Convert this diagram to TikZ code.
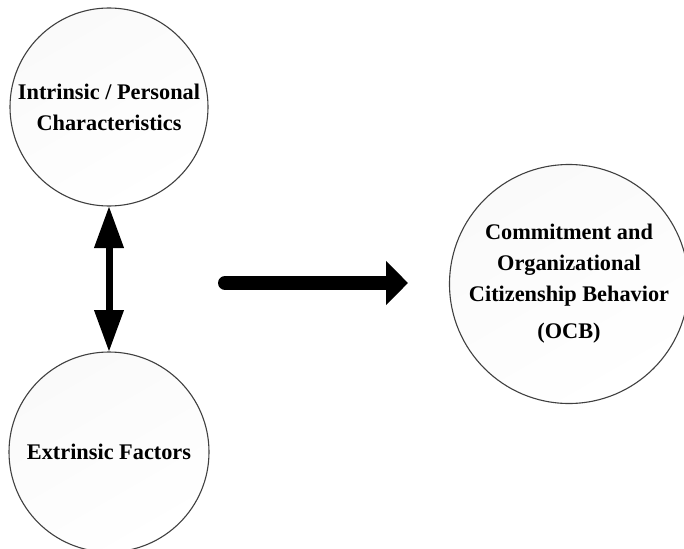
\documentclass[tikz,border=0pt]{standalone}
\usepackage{fontspec}
\setmainfont{Liberation Serif}
\usetikzlibrary{arrows.meta}
\tikzset{
  bubble/.style={circle, draw=black!75, line width=1.1pt, inner sep=0pt, outer sep=0pt,
    shading=axis, top color=black!2, bottom color=white, shading angle=30,
    align=center, font=\fontsize{22.3}{31}\selectfont\bfseries},
  dblarrow/.style={line width=7pt, {Triangle[length=42pt,width=28pt]}-{Triangle[length=42pt,width=28pt]}},
  flowarrow/.style={line width=14pt, line cap=round, -{Triangle[length=22pt,width=43pt]}}
}
\begin{document}
\begin{tikzpicture}[x=1pt,y=-1pt]
\useasboundingbox[fill=white] (0,0) rectangle (684,548);
\node[bubble, minimum size=198pt] (intr) at (109,107) {Intrinsic / Personal\\Characteristics};
\node[bubble, minimum size=200pt] (extr) at (109,452) {Extrinsic Factors};
\node[bubble, minimum size=239pt] (ocb) at (569,284) {Commitment and\\Organizational\\Citizenship Behavior\\[6pt](OCB)};
\draw[dblarrow] (intr) -- (extr);
\coordinate (fstart) at (225,283);
\coordinate (fend) at (408,283);
\draw[flowarrow] (fstart) -- (fend);
\end{tikzpicture}
\end{document}
